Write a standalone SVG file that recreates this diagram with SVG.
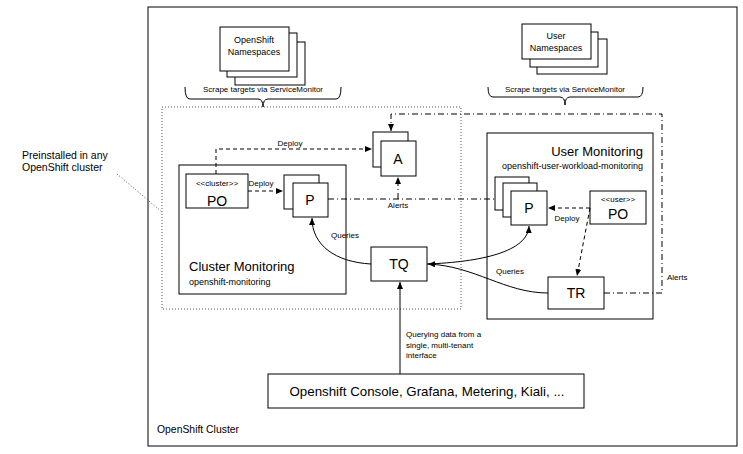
<svg xmlns="http://www.w3.org/2000/svg" width="743" height="454" viewBox="0 0 743 454">
<style>
  text { font-family: "Liberation Sans", Arial, sans-serif; fill: #000; }
  .box { fill: #fff; stroke: #000; stroke-width: 1; }
  .plain { fill: none; stroke: #000; stroke-width: 1; }
  .dotted { fill: none; stroke: #555; stroke-width: 1; stroke-dasharray: 1 2; }
  .dashed { fill: none; stroke: #000; stroke-width: 1; stroke-dasharray: 4 3; }
  .dashdot { fill: none; stroke: #000; stroke-width: 1; stroke-dasharray: 6 3 1 3; }
  .big { font-size: 14px; }
  .small { font-size: 8px; }
  .mid { font-size: 9px; }
  .title { font-size: 13px; }
  .c { text-anchor: middle; }
  .e { text-anchor: end; }
</style>
<defs>
  <marker id="arr" markerWidth="7" markerHeight="6" refX="7" refY="3" orient="auto" markerUnits="userSpaceOnUse">
    <path d="M0,0 L7,3 L0,6 Z" fill="#000"/>
  </marker>
</defs>
<rect width="743" height="454" fill="#fff"/>

<g id="openshift-cluster">
  <rect x="148" y="7" width="589" height="439" class="plain"/>
  <text x="157" y="433" style="font-size:10.4px">OpenShift Cluster</text>
</g>

<g id="preinstalled">
  <rect x="162" y="107" width="299" height="202" class="dotted"/>
  <text x="22" y="159" style="font-size:10.5px">Preinstalled in any</text>
  <text x="22" y="171" style="font-size:10.5px">OpenShift cluster</text>
  <path d="M117,174 L162,212" class="dotted"/>
</g>

<g id="openshift-namespaces">
  <rect x="235" y="42" width="70" height="43" class="box"/>
  <rect x="227" y="33" width="70" height="44" class="box"/>
  <rect x="220" y="27" width="69" height="44" class="box"/>
  <text x="254" y="43" class="mid c">OpenShift</text>
  <text x="254" y="55" class="mid c">Namespaces</text>
  <path d="M185,87 Q185,99 190,99 L258,99 Q263,99 263,107 Q263,99 268,99 L336,99 Q341,99 341,87" class="plain"/>
  <text x="263" y="92" class="small c">Scrape targets via ServiceMonitor</text>
</g>

<g id="user-namespaces">
  <rect x="537" y="39" width="70" height="35" class="box"/>
  <rect x="530" y="32" width="68" height="35" class="box"/>
  <rect x="522" y="24" width="69" height="35" class="box"/>
  <text x="556" y="39" class="mid c">User</text>
  <text x="556" y="51" class="mid c">Namespaces</text>
  <path d="M488,87 Q488,97 493,97 L560,97 Q565,97 565,105 Q565,97 570,97 L638,97 Q643,97 643,87" class="plain"/>
  <text x="565" y="92" class="small c">Scrape targets via ServiceMonitor</text>
</g>

<g id="cluster-monitoring">
  <rect x="179" y="165" width="167" height="129" class="box"/>
  <text x="189" y="271" class="title">Cluster Monitoring</text>
  <text x="189" y="285" class="mid">openshift-monitoring</text>
</g>

<g id="user-monitoring">
  <rect x="487" y="133" width="166" height="186" class="box"/>
  <text x="643" y="156" class="title e">User Monitoring</text>
  <text x="643" y="169" class="mid e">openshift-user-workload-monitoring</text>
</g>

<g id="cluster-po">
  <rect x="186" y="174" width="62" height="34" class="box"/>
  <text x="217" y="186" class="small c">&lt;&lt;cluster&gt;&gt;</text>
  <text x="217" y="206" class="big c">PO</text>
</g>

<g id="cluster-p">
  <rect x="284" y="175" width="35" height="34" class="box"/>
  <rect x="293" y="183" width="35" height="34" class="box"/>
  <text x="310" y="205" class="big c">P</text>
</g>

<g id="alertmanager">
  <rect x="373" y="132" width="35" height="35" class="box"/>
  <rect x="381" y="141" width="35" height="35" class="box"/>
  <text x="398" y="164" class="big c">A</text>
</g>

<g id="user-p">
  <rect x="495" y="177" width="34" height="33" class="box"/>
  <rect x="503" y="183" width="34" height="34" class="box"/>
  <rect x="511" y="191" width="36" height="34" class="box"/>
  <text x="529" y="213" class="big c">P</text>
</g>

<g id="user-po">
  <rect x="590" y="191" width="56" height="33" class="box"/>
  <text x="618" y="202" class="small c">&lt;&lt;user&gt;&gt;</text>
  <text x="618" y="219" class="big c">PO</text>
</g>

<g id="tq">
  <rect x="371" y="247" width="56" height="34" class="box"/>
  <text x="399" y="269" class="big c">TQ</text>
</g>

<g id="tr">
  <rect x="548" y="277" width="56" height="32" class="box"/>
  <text x="576" y="298" class="big c">TR</text>
</g>

<g id="consumers">
  <rect x="268" y="374" width="316" height="34" class="box"/>
  <text x="427" y="396" class="c" style="font-size:13.3px">Openshift Console, Grafana, Metering, Kiali, ...</text>
</g>

<g id="connectors">
  <path d="M216,174 L216,149 L372,149" class="dashed" marker-end="url(#arr)"/>
  <text x="290" y="146" class="small c">Deploy</text>
  <path d="M248,191 L283,191" class="dashed" marker-end="url(#arr)"/>
  <text x="261" y="186" class="small c">Deploy</text>

  <path d="M328,199 L495,199" class="dashdot"/>
  <path d="M398,199 L398,177" class="dashdot" marker-end="url(#arr)"/>
  <text x="398" y="208" class="small c">Alerts</text>

  <path d="M604,293 L662,293 L662,114 L391,114 L391,131" class="dashdot" marker-end="url(#arr)"/>
  <text x="667" y="280" class="small">Alerts</text>

  <path d="M590,208 L548,208" class="dashed" marker-end="url(#arr)"/>
  <path d="M590,208 L577,276" class="dashed" marker-end="url(#arr)"/>
  <text x="567" y="221" class="small c">Deploy</text>

  <path d="M371,264 C335,262 312,245 312,218" class="plain" marker-end="url(#arr)"/>
  <text x="345" y="238" class="small c">Queries</text>
  <path d="M427,264 C480,262 528,252 529,226" class="plain" marker-end="url(#arr)"/>
  <path d="M548,293 C505,293 475,266 428,264" class="plain" marker-end="url(#arr)"/>
  <text x="510" y="274" class="small c">Queries</text>

  <path d="M400,374 L400,282" class="plain" marker-end="url(#arr)"/>
  <text x="406" y="337" class="small">Querying data from a</text>
  <text x="406" y="348" class="small">single, multi-tenant</text>
  <text x="406" y="358" class="small">interface</text>
</g>
</svg>
